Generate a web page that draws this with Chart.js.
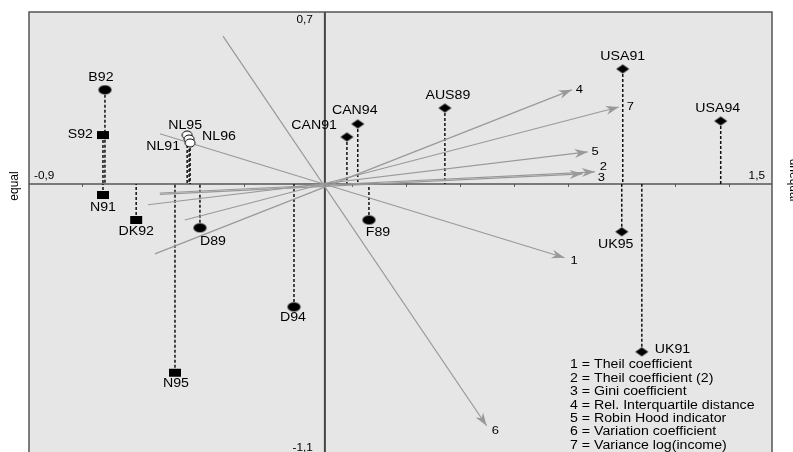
<!DOCTYPE html>
<html>
<head>
<meta charset="utf-8">
<script src="https://cdn.jsdelivr.net/npm/chart.js@4/dist/chart.umd.min.js"></script>
<style>
html, body { margin: 0; padding: 0; background: #fff; overflow: hidden; }
canvas { display: block; }
</style>
</head>
<body>
<canvas id="biplot" width="793" height="460"></canvas>
<script>
/* global Chart */

// Countries (object scores), grouped by marker
const squareNames = ['S92', 'N91', 'DK92', 'N95'];
const squareX = [-0.675, -0.675, -0.574, -0.456];
const squareY = [0.199, -0.045, -0.147, -0.769];

const circleNames = ['B92', 'D89', 'D94', 'F89'];
const circleX = [-0.669, -0.380, -0.094, 0.134];
const circleY = [0.383, -0.179, -0.501, -0.147];

const openNames = ['NL95', 'NL96', 'NL91'];
const openX = [-0.419, -0.413, -0.410];
const openY = [0.199, 0.183, 0.167];

const diamondNames = ['CAN91', 'CAN94', 'AUS89', 'USA91', 'USA94', 'UK95', 'UK91'];
const diamondX = [0.067, 0.100, 0.365, 0.906, 1.204, 0.903, 0.964];
const diamondY = [0.191, 0.244, 0.309, 0.468, 0.256, -0.195, -0.684];

// Inequality measures (vectors): tail and head
const vectorNames = ['1', '2', '3', '4', '5', '6', '7'];
const vectorTailX = [-0.502, -0.502, -0.502, -0.517, -0.538, -0.310, -0.426];
const vectorTailY = [0.204, -0.037, -0.043, -0.285, -0.085, 0.602, -0.147];
const vectorHeadX = [0.729, 0.821, 0.784, 0.751, 0.799, 0.492, 0.894];
const vectorHeadY = [-0.301, 0.049, 0.041, 0.383, 0.130, -0.985, 0.313];

const legendLines = [
    '1 = Theil coefficient',
    '2 = Theil coefficient (2)',
    '3 = Gini coefficient',
    '4 = Rel. Interquartile distance',
    '5 = Robin Hood indicator',
    '6 = Variation coefficient',
    '7 = Variance log(income)'
];

const xTickMarks = [-0.738, -0.246, 0.082, 0.246, 0.410, 0.574, 0.738, 0.902, 1.066, 1.230];

const xMin = -0.9, xMax = 1.36, yMin = -1.1, yMax = 0.7;

// label placement (dx, dy, align) in px, same order as the names
const squareSpots = [[-10, 0, 'right'], [0, 13, 'center'], [0, 12, 'center'], [1, 11, 'center']];
const circleSpots = [[-4, -12, 'center'], [13, 14, 'center'], [-1, 11, 'center'], [9, 13, 'center']];
const openSpots = [[-2, -9, 'center'], [13, -2, 'left'], [-10, 4, 'right']];
const diamondSpots = [[-10, -11, 'right'], [-3, -13, 'center'], [3, -12, 'center'], [0, -12, 'center'],
    [-3, -12, 'center'], [-6, 13, 'center'], [13, -2, 'left']];
const vectorSpots = [[6, 3], [5, -5], [15, 4], [4, 0], [4, 0], [5, 5], [8, 0]];

const STRETCH = 1.18;
const FONT = '"Liberation Sans", Arial, sans-serif';

function marker(shape, w, h, fill, stroke) {
    const c = document.createElement('canvas');
    c.width = w + 2;
    c.height = h + 2;
    const g = c.getContext('2d');
    const cx = c.width / 2, cy = c.height / 2;
    g.beginPath();
    if (shape === 'ellipse') {
        g.ellipse(cx, cy, w / 2, h / 2, 0, 0, Math.PI * 2);
    } else if (shape === 'rect') {
        g.rect(cx - w / 2, cy - h / 2, w, h);
    } else {
        g.moveTo(cx, cy - h / 2);
        g.lineTo(cx + w / 2, cy);
        g.lineTo(cx, cy + h / 2);
        g.lineTo(cx - w / 2, cy);
        g.closePath();
    }
    g.fillStyle = fill;
    g.fill();
    if (stroke) {
        g.lineWidth = 1;
        g.strokeStyle = stroke;
        g.stroke();
    }
    return c;
}

function pts(xs, ys) {
    return xs.map((x, i) => ({ x: x, y: ys[i] }));
}

function drawText(ctx, text, x, y, align, size) {
    ctx.save();
    ctx.font = size + 'px ' + FONT;
    ctx.textBaseline = 'middle';
    ctx.textAlign = 'left';
    const w = ctx.measureText(text).width * STRETCH;
    let left = x;
    if (align === 'center') left = x - w / 2;
    else if (align === 'right') left = x - w;
    ctx.translate(left, y);
    ctx.scale(STRETCH, 1);
    ctx.fillStyle = '#000';
    ctx.fillText(text, 0, 0);
    ctx.restore();
}

const groups = [
    { names: squareNames, xs: squareX, ys: squareY, spots: squareSpots },
    { names: circleNames, xs: circleX, ys: circleY, spots: circleSpots },
    { names: openNames, xs: openX, ys: openY, spots: openSpots },
    { names: diamondNames, xs: diamondX, ys: diamondY, spots: diamondSpots }
];

const biplotDecor = {
    id: 'biplotDecor',
    beforeDatasetsDraw(chart) {
        const { ctx, chartArea: a, scales: { x, y } } = chart;
        ctx.save();
        ctx.fillStyle = '#e6e6e6';
        ctx.fillRect(a.left, a.top, a.right - a.left, a.bottom - a.top);

        const x0 = x.getPixelForValue(0), y0 = y.getPixelForValue(0);
        // horizontal axis
        ctx.strokeStyle = '#7a7a7a';
        ctx.lineWidth = 2;
        ctx.beginPath();
        ctx.moveTo(a.left, y0);
        ctx.lineTo(a.right, y0);
        ctx.stroke();
        ctx.strokeStyle = '#555';
        ctx.lineWidth = 1;
        xTickMarks.forEach(v => {
            const px = Math.round(x.getPixelForValue(v)) + 0.5;
            ctx.beginPath();
            ctx.moveTo(px, y0);
            ctx.lineTo(px, y0 + 3);
            ctx.stroke();
        });
        // vertical axis
        ctx.strokeStyle = '#444';
        ctx.lineWidth = 2;
        ctx.beginPath();
        ctx.moveTo(x0, a.top);
        ctx.lineTo(x0, a.bottom);
        ctx.stroke();

        // dashed drop lines
        ctx.strokeStyle = '#111';
        ctx.lineWidth = 1.5;
        ctx.setLineDash([3, 2]);
        groups.forEach(g => {
            g.xs.forEach((v, i) => {
                const px = x.getPixelForValue(v);
                ctx.beginPath();
                ctx.moveTo(px, y.getPixelForValue(g.ys[i]));
                ctx.lineTo(px, y0);
                ctx.stroke();
            });
        });
        ctx.restore();
    },
    afterDatasetsDraw(chart) {
        const { ctx, chartArea: a, scales: { x, y } } = chart;
        ctx.save();
        // arrow heads
        ctx.fillStyle = '#999';
        vectorNames.forEach((n, i) => {
            const hx = x.getPixelForValue(vectorHeadX[i]), hy = y.getPixelForValue(vectorHeadY[i]);
            const tx = x.getPixelForValue(vectorTailX[i]), ty = y.getPixelForValue(vectorTailY[i]);
            const ang = Math.atan2(hy - ty, hx - tx);
            ctx.save();
            ctx.translate(hx, hy);
            ctx.rotate(ang);
            ctx.beginPath();
            ctx.moveTo(0, 0);
            ctx.lineTo(-13, -4.5);
            ctx.lineTo(-9, 0);
            ctx.lineTo(-13, 4.5);
            ctx.closePath();
            ctx.fill();
            ctx.restore();
            drawText(ctx, n, hx + vectorSpots[i][0], hy + vectorSpots[i][1], 'left', 11);
        });

        // point labels
        groups.forEach(g => {
            g.names.forEach((n, i) => {
                const s = g.spots[i];
                drawText(ctx, n, x.getPixelForValue(g.xs[i]) + s[0], y.getPixelForValue(g.ys[i]) + s[1], s[2], 12);
            });
        });

        // legend text
        legendLines.forEach((t, i) => {
            drawText(ctx, t, 570, 365 + i * 13.4, 'left', 12);
        });

        // axis end labels
        const x0 = x.getPixelForValue(0), y0 = y.getPixelForValue(0);
        drawText(ctx, '-0,9', a.left + 5, y0 - 8, 'left', 10);
        drawText(ctx, '1,5', a.right - 7, y0 - 8, 'right', 10);
        drawText(ctx, '0,7', x0 - 12, a.top + 8, 'right', 10);
        drawText(ctx, '-1,1', x0 - 12, a.bottom - 6, 'right', 10);

        // plot frame
        ctx.strokeStyle = '#555';
        ctx.lineWidth = 1.5;
        ctx.strokeRect(a.left, a.top, a.right - a.left, a.bottom - a.top);

        // side titles
        ctx.save();
        ctx.translate(15, 186);
        ctx.rotate(-Math.PI / 2);
        ctx.font = '12px ' + FONT;
        ctx.textAlign = 'center';
        ctx.textBaseline = 'middle';
        ctx.fillStyle = '#000';
        ctx.fillText('equal', 0, 0);
        ctx.restore();
        ctx.save();
        ctx.translate(793, 180);
        ctx.rotate(Math.PI / 2);
        ctx.font = '12px ' + FONT;
        ctx.textAlign = 'center';
        ctx.textBaseline = 'middle';
        ctx.fillStyle = '#000';
        ctx.fillText('unequal', 0, 0);
        ctx.restore();
        ctx.restore();
    }
};

const vectorSets = vectorNames.map((n, i) => ({
    type: 'line',
    label: n,
    data: [{ x: vectorTailX[i], y: vectorTailY[i] }, { x: vectorHeadX[i], y: vectorHeadY[i] }],
    borderColor: '#999',
    borderWidth: 1.2,
    pointRadius: 0,
    order: 2
}));

const ctx = document.getElementById('biplot').getContext('2d');
new Chart(ctx, {
    type: 'scatter',
    data: {
        datasets: [
            { label: 'squares', data: pts(squareX, squareY), pointStyle: marker('rect', 12, 8, '#000'), order: 1 },
            { label: 'circles', data: pts(circleX, circleY), pointStyle: marker('ellipse', 13, 9, '#000'), order: 1 },
            { label: 'open', data: pts(openX, openY), pointStyle: marker('ellipse', 10, 8, '#fff', '#000'), order: 1 },
            { label: 'diamonds', data: pts(diamondX, diamondY), pointStyle: marker('diamond', 13, 9, '#000'), order: 1 },
            ...vectorSets
        ]
    },
    options: {
        responsive: false,
        animation: false,
        layout: { padding: { left: 29, right: 21, top: 12, bottom: 6 } },
        scales: {
            x: { type: 'linear', min: xMin, max: xMax, display: false },
            y: { type: 'linear', min: yMin, max: yMax, display: false }
        },
        plugins: {
            legend: { display: false },
            tooltip: { enabled: false }
        }
    },
    plugins: [biplotDecor]
});
</script>
</body>
</html>
